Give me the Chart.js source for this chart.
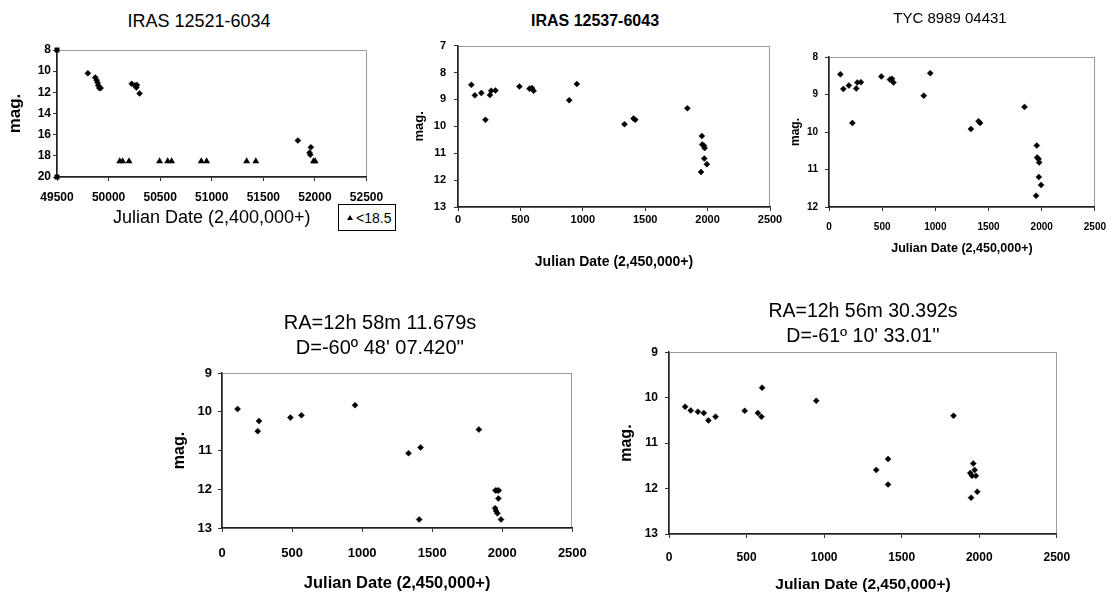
<!DOCTYPE html>
<html>
<head>
<meta charset="utf-8">
<script src="https://cdn.jsdelivr.net/npm/chart.js@4.4.1/dist/chart.umd.min.js"></script>
<style>
  html, body { margin: 0; padding: 0; background: #fff; }
  body { position: relative; width: 1116px; height: 596px; overflow: hidden; font-family: "Liberation Sans", Arial, sans-serif; color: #000; }
  canvas { position: absolute; }
  .title { position: absolute; transform: translate(-50%, -50%); white-space: nowrap; text-align: center; }
  #legend1 { position: absolute; left: 338px; top: 204px; width: 58px; height: 27px; border: 1px solid #000; box-sizing: border-box;
             display: flex; align-items: center; font-size: 14px; background: #fff; }
  #legend1 .mark { width: 0; height: 0; margin: 0 3px 0 8px; border-left: 3px solid transparent; border-right: 3px solid transparent; border-bottom: 5px solid #000; }
</style>
</head>
<body>
<canvas id="c1"></canvas>
<canvas id="c2"></canvas>
<canvas id="c3"></canvas>
<canvas id="c4"></canvas>
<canvas id="c5"></canvas>

<div class="title" style="left:199px; top:21px; font-size:18px;">IRAS 12521-6034</div>
<div class="title" style="left:595px; top:21px; font-size:16px; font-weight:bold;">IRAS 12537-6043</div>
<div class="title" style="left:950px; top:17px; font-size:15px;">TYC 8989 04431</div>
<div class="title" style="left:380px; top:334.5px; font-size:20px; line-height:25px;">RA=12h 58m 11.679s<br>D=-60º 48' 07.420''</div>
<div class="title" style="left:863px; top:322.5px; font-size:19.5px; line-height:25px;">RA=12h 56m 30.392s<br>D=-61º 10' 33.01''</div>
<div id="legend1"></div>

<script>
// IRAS 12521-6034 (JD - 2,400,000)
const iras1Jd = [49799, 49871, 49884, 49894, 49900, 49910, 49923, 50224, 50256, 50269, 50275, 50300, 51835, 51961, 51948, 51955];
const iras1Mag = [10.2, 10.6, 10.85, 11.1, 11.35, 11.6, 11.6, 11.2, 11.35, 11.55, 11.3, 12.1, 16.55, 17.2, 17.7, 17.9];
const iras1LimitJd = [50108, 50136, 50198, 50494, 50573, 50611, 50898, 50950, 51338, 51427, 51986, 52002];
const iras1LimitMag = [18.5, 18.5, 18.5, 18.5, 18.5, 18.5, 18.5, 18.5, 18.5, 18.5, 18.5, 18.5];
const iras1LimitLabel = "<18.5";
const iras1EdgeJd = [49500, 49500];
const iras1EdgeMag = [8, 20];

// IRAS 12537-6043 = TYC 8989 04431 (JD - 2,450,000)
const iras2Jd = [107, 135, 187, 220, 256, 266, 300, 492, 573, 592, 606, 891, 952, 1334, 1406, 1421, 1838, 1954, 1957, 1970, 1976, 1973, 1994, 1947];
const iras2Mag = [8.46, 8.85, 8.76, 9.76, 8.84, 8.68, 8.67, 8.52, 8.6, 8.58, 8.68, 9.03, 8.43, 9.92, 9.71, 9.76, 9.33, 10.36, 10.68, 10.72, 10.81, 11.2, 11.41, 11.7];

// RA=12h 58m 11.679s
const ra58Jd = [111, 255, 264, 488, 567, 949, 1331, 1417, 1407, 1833, 1951, 1963, 1975, 1972, 1949, 1956, 1965, 1991];
const ra58Mag = [9.93, 10.5, 10.24, 10.15, 10.09, 9.83, 11.07, 10.92, 12.78, 10.46, 12.03, 12.03, 12.03, 12.24, 12.49, 12.56, 12.62, 12.78];

// RA=12h 56m 30.392s
const ra56Jd = [104, 140, 186, 224, 254, 300, 488, 573, 596, 600, 949, 1336, 1412, 1412, 1834, 1961, 1970, 1942, 1953, 1978, 1987, 1947];
const ra56Mag = [10.2, 10.28, 10.31, 10.34, 10.5, 10.42, 10.29, 10.34, 10.42, 9.78, 10.07, 11.59, 11.35, 11.91, 10.4, 11.45, 11.59, 11.66, 11.72, 11.72, 12.07, 12.2];

const xTitleOld = "Julian Date (2,400,000+)";
const xTitleNew = "Julian Date (2,450,000+)";
const yTitle = "mag.";

const SANS = '"Liberation Sans", Arial, sans-serif';

function pts(xs, ys) {
  return xs.map((x, i) => ({ x, y: ys[i] }));
}

function dots(xs, ys, label) {
  return {
    label, data: pts(xs, ys),
    pointStyle: "rectRot", pointRadius: 3, pointBorderWidth: 0.5,
    backgroundColor: "#000", borderColor: "#000", showLine: false
  };
}

// light frame round the plot area; the axes draw the darker left and bottom edges over it
const frame = {
  id: "frame",
  beforeDraw(chart) {
    const { ctx, chartArea: a } = chart;
    ctx.save();
    ctx.strokeStyle = "#9a9a9a";
    ctx.lineWidth = 1;
    ctx.strokeRect(Math.round(a.left) + 0.5, Math.round(a.top) + 0.5, Math.round(a.right - a.left) - 1, Math.round(a.bottom - a.top));
    ctx.restore();
  }
};

function makePanel(p) {
  const canvas = document.getElementById(p.id);
  canvas.width = p.w;
  canvas.height = p.h;
  canvas.style.left = p.left + "px";
  canvas.style.top = p.top + "px";

  const tickFont = { family: SANS, size: p.tick, weight: "bold" };

  return new Chart(canvas, {
    type: "scatter",
    data: { datasets: p.datasets },
    options: {
      responsive: false,
      animation: false,
      events: [],
      layout: { padding: { left: 0, top: 14, right: p.padR, bottom: 0 } },
      plugins: { legend: { display: false }, tooltip: { enabled: false } },
      scales: {
        x: {
          type: "linear", min: p.xMin, max: p.xMax,
          ticks: { stepSize: 500, padding: p.xTickPad, font: tickFont, color: "#000", maxRotation: 0, autoSkip: false, callback: v => String(v) },
          grid: { drawOnChartArea: false, tickLength: 4, color: "#333" },
          border: { color: "#222", width: 1.5 },
          title: { display: true, text: p.xTitle, color: "#000", font: p.xTitleFont, padding: { top: 0, bottom: 0 } },
          afterFit: s => { s.height = p.xH; }
        },
        y: {
          type: "linear", reverse: true, min: p.yMin, max: p.yMax,
          ticks: { stepSize: p.yStep, padding: p.yTickPad, font: tickFont, color: "#000", autoSkip: false, callback: v => String(v) },
          grid: { drawOnChartArea: false, tickLength: 4, color: "#333" },
          border: { color: "#222", width: 1.5 },
          title: { display: true, text: yTitle, color: "#000", font: p.yTitleFont, padding: { top: p.yTitlePad, bottom: 0 } },
          afterFit: s => { s.width = p.yW; }
        }
      }
    },
    plugins: [frame]
  });
}

const limitSet = {
  label: iras1LimitLabel, data: pts(iras1LimitJd, iras1LimitMag),
  pointStyle: "triangle", pointRadius: 4, pointBorderWidth: 0,
  backgroundColor: "#000", borderColor: "#000", clip: false
};
const edgeSet = {
  label: "edge", data: pts(iras1EdgeJd, iras1EdgeMag),
  pointStyle: "rect", pointRadius: 3.5, pointBorderWidth: 0,
  backgroundColor: "#000", borderColor: "#000", clip: false
};

makePanel({
  id: "c1", left: 0, top: 36, w: 393, h: 193, padR: 22, yW: 57, xH: 52,
  xMin: 49500, xMax: 52500, yMin: 8, yMax: 20, yStep: 2,
  tick: 12, xTickPad: 9.8, yTickPad: 2, yTitlePad: 4.8,
  xTitle: xTitleOld, xTitleFont: { family: SANS, size: 18 },
  yTitleFont: { family: SANS, size: 17, weight: "bold" },
  datasets: [dots(iras1Jd, iras1Mag, "IRAS 12521-6034"), limitSet, edgeSet]
});

makePanel({
  id: "c2", left: 400, top: 31, w: 388, h: 240, padR: 18, yW: 58, xH: 64,
  xMin: 0, xMax: 2500, yMin: 7, yMax: 13, yStep: 1,
  tick: 11, xTickPad: 2.4, yTickPad: 8, yTitlePad: 12,
  xTitle: xTitleNew, xTitleFont: { family: SANS, size: 14, weight: "bold" },
  yTitleFont: { family: SANS, size: 13, weight: "bold" },
  datasets: [dots(iras2Jd, iras2Mag, "IRAS 12537-6043")]
});

makePanel({
  id: "c3", left: 785, top: 43, w: 331, h: 213, padR: 10, yW: 44, xH: 49,
  xMin: 0, xMax: 2500, yMin: 8, yMax: 12, yStep: 1,
  tick: 10, xTickPad: 10, yTickPad: 7, yTitlePad: 3,
  xTitle: xTitleNew, xTitleFont: { family: SANS, size: 12.5, weight: "bold" },
  yTitleFont: { family: SANS, size: 12, weight: "bold" },
  datasets: [dots(iras2Jd, iras2Mag, "TYC 8989 04431")]
});

makePanel({
  id: "c4", left: 170, top: 359, w: 430, h: 234, padR: 18, yW: 52, xH: 65,
  xMin: 0, xMax: 2500, yMin: 9, yMax: 13, yStep: 1,
  tick: 13, xTickPad: 13.2, yTickPad: 6, yTitlePad: 0.4,
  xTitle: xTitleNew, xTitleFont: { family: SANS, size: 16.5, weight: "bold" },
  yTitleFont: { family: SANS, size: 16, weight: "bold" },
  datasets: [dots(ra58Jd, ra58Mag, "RA=12h 58m 11.679s")]
});

makePanel({
  id: "c5", left: 615, top: 338, w: 468, h: 256, padR: 20, yW: 54, xH: 60,
  xMin: 0, xMax: 2500, yMin: 9, yMax: 13, yStep: 1,
  tick: 12, xTickPad: 12.8, yTickPad: 7, yTitlePad: 2.4,
  xTitle: xTitleNew, xTitleFont: { family: SANS, size: 15.5, weight: "bold" },
  yTitleFont: { family: SANS, size: 16, weight: "bold" },
  datasets: [dots(ra56Jd, ra56Mag, "RA=12h 56m 30.392s")]
});

// legend box for the upper-limit points of the first panel
const legend1 = document.getElementById("legend1");
const mark = document.createElement("span");
mark.className = "mark";
const text = document.createElement("span");
text.textContent = limitSet.label;
legend1.appendChild(mark);
legend1.appendChild(text);
</script>
</body>
</html>
